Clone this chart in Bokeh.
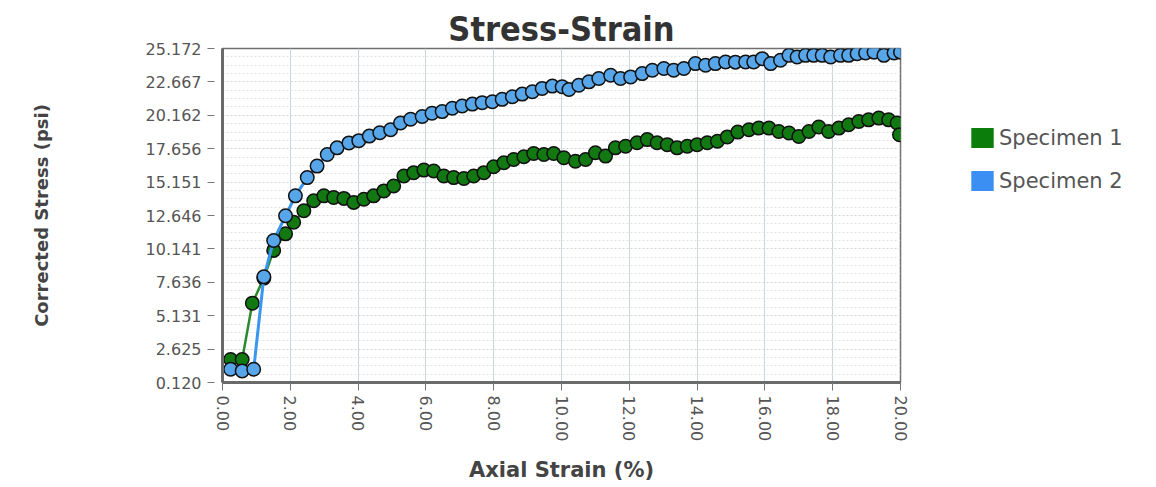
import math
from bokeh.plotting import figure
from bokeh.layouts import row
from bokeh.models import (FixedTicker, Legend, LegendItem,
                          ColumnDataSource, NumeralTickFormatter)
from bokeh.embed import file_html
from bokeh.resources import INLINE

# ---------------- data ----------------
title_text = "Stress-Strain"
x_label = "Axial Strain (%)"
y_label = "Corrected Stress (psi)"
series_names = ["Specimen 1", "Specimen 2"]

y_ticks = [0.120, 2.625, 5.131, 7.636, 10.141, 12.646, 15.151, 17.656, 20.162, 22.667, 25.172]
x_ticks = [0, 2, 4, 6, 8, 10, 12, 14, 16, 18, 20]

spec1_x = [0.24, 0.58, 0.88, 1.22, 1.51, 1.86, 2.10, 2.40, 2.69, 2.99, 3.28, 3.58, 3.87,
           4.17, 4.46, 4.76, 5.05, 5.35, 5.64, 5.94, 6.23, 6.53, 6.82, 7.12, 7.41, 7.71,
           8.00, 8.30, 8.59, 8.89, 9.18, 9.48, 9.77, 10.07, 10.41, 10.71, 11.00, 11.30,
           11.59, 11.89, 12.23, 12.53, 12.82, 13.12, 13.41, 13.71, 14.00, 14.30, 14.60,
           14.89, 15.20, 15.53, 15.82, 16.12, 16.41, 16.71, 17.00, 17.30, 17.59, 17.88,
           18.18, 18.47, 18.77, 19.06, 19.36, 19.65, 19.90, 19.97]
spec1_y = [1.85, 1.85, 6.07, 7.95, 10.03, 11.27, 12.14, 13.00, 13.75, 14.12, 14.00, 13.93,
           13.63, 13.87, 14.12, 14.49, 14.86, 15.61, 15.86, 16.05, 15.98, 15.61, 15.49,
           15.42, 15.61, 15.86, 16.30, 16.60, 16.85, 17.05, 17.30, 17.22, 17.30, 16.98,
           16.72, 16.85, 17.35, 17.10, 17.72, 17.84, 18.10, 18.34, 18.10, 17.96, 17.72,
           17.84, 17.96, 18.10, 18.21, 18.54, 18.90, 19.08, 19.20, 19.20, 18.95, 18.83,
           18.58, 18.95, 19.28, 18.95, 19.20, 19.45, 19.70, 19.82, 19.95, 19.82, 19.58, 18.70]

spec2_x = [0.24, 0.58, 0.92, 1.22, 1.51, 1.86, 2.15, 2.50, 2.79, 3.09, 3.38, 3.73, 4.02,
           4.33, 4.64, 4.96, 5.25, 5.55, 5.89, 6.18, 6.48, 6.78, 7.07, 7.37, 7.66, 7.96,
           8.25, 8.55, 8.84, 9.14, 9.43, 9.73, 10.02, 10.22, 10.51, 10.81, 11.10, 11.45,
           11.74, 12.04, 12.38, 12.68, 13.02, 13.31, 13.61, 13.95, 14.25, 14.54, 14.84,
           15.13, 15.43, 15.67, 15.92, 16.17, 16.46, 16.71, 16.95, 17.20, 17.44, 17.69,
           17.94, 18.23, 18.47, 18.72, 18.97, 19.22, 19.51, 19.81, 20.00]
spec2_y = [1.11, 0.99, 1.11, 8.05, 10.77, 12.63, 14.12, 15.49, 16.35, 17.22, 17.72, 18.09,
           18.26, 18.60, 18.85, 19.08, 19.58, 19.87, 20.07, 20.32, 20.44, 20.69, 20.86,
           21.00, 21.11, 21.18, 21.36, 21.55, 21.75, 21.93, 22.18, 22.35, 22.30, 22.10,
           22.42, 22.67, 22.92, 23.17, 22.92, 23.04, 23.29, 23.54, 23.67, 23.54, 23.67,
           24.04, 23.92, 24.04, 24.16, 24.15, 24.16, 24.16, 24.41, 24.04, 24.29, 24.66,
           24.53, 24.66, 24.66, 24.66, 24.53, 24.66, 24.66, 24.78, 24.83, 24.90, 24.66,
           24.83, 24.90]

# ---------------- styling ----------------
GREEN_LINE = "#2b8a2b"
GREEN_FILL = "#127812"
BLUE_LINE = "#3a96f0"
BLUE_FILL = "#58a6ea"
FONT = "DejaVu Sans"
H = 485

p = figure(width=922, height=H, output_backend="svg", toolbar_location=None,
           x_range=(x_ticks[0], x_ticks[-1]), y_range=(y_ticks[0], y_ticks[-1]),
           min_border_left=222, min_border_right=22, min_border_top=48,
           min_border_bottom=100)
p.background_fill_color = "white"
p.border_fill_color = "white"
p.outline_line_color = "#6f6f6f"
p.outline_line_width = 1.5

p.title.text = title_text
p.title.align = "center"
p.title.text_font = "DejaVu Sans Condensed"
p.title.text_font_style = "bold"
p.title.text_font_size = "34px"
p.title.text_color = "#333333"
p.title.standoff = 0

# minor y ticks: 4 subdivisions between majors
minor_y = []
for a, b in zip(y_ticks[:-1], y_ticks[1:]):
    for k in range(1, 4):
        minor_y.append(a + (b - a) * k / 4)

p.yaxis.ticker = FixedTicker(ticks=y_ticks, minor_ticks=minor_y)
p.xaxis.ticker = FixedTicker(ticks=x_ticks)
p.yaxis.formatter = NumeralTickFormatter(format="0.000")
p.xaxis.formatter = NumeralTickFormatter(format="0.00")

for ax in (p.xaxis[0], p.yaxis[0]):
    ax.axis_line_color = "#6a6a6a"
    ax.axis_line_width = 3
    ax.major_tick_line_color = "#777777"
    ax.major_tick_line_width = 1
    ax.minor_tick_line_color = None
    ax.major_label_text_font = FONT
    ax.major_label_text_font_size = "16px"
    ax.major_label_text_color = "#555555"
    ax.axis_label_text_font = FONT
    ax.axis_label_text_font_style = "bold"
    ax.axis_label_text_color = "#444444"

p.yaxis.major_tick_in = -8
p.yaxis.major_tick_out = 15
p.yaxis.major_label_standoff = 6
p.yaxis.axis_label = y_label
p.yaxis.axis_label_text_font_size = "18px"
p.yaxis.axis_label_standoff = 91

p.xaxis.major_tick_in = 0
p.xaxis.major_tick_out = 8
p.xaxis.major_label_standoff = 5
p.xaxis.major_label_orientation = -math.pi / 2
p.xaxis.axis_label = x_label
p.xaxis.axis_label_text_font_size = "21px"
p.xaxis.axis_label_standoff = 14

p.xgrid.ticker = FixedTicker(ticks=x_ticks)
p.xgrid.grid_line_color = "#cbd5df"
p.xgrid.grid_line_width = 1
p.ygrid.grid_line_color = "#d4d4d4"
p.ygrid.grid_line_dash = "2 2"
p.ygrid.minor_grid_line_color = "#e4e4e4"
p.ygrid.minor_grid_line_dash = "2 2"

# ---------------- series ----------------
s1 = ColumnDataSource(dict(x=spec1_x, y=spec1_y))
s2 = ColumnDataSource(dict(x=spec2_x, y=spec2_y))

p.line("x", "y", source=s1, line_color=GREEN_LINE, line_width=2.5)
p.scatter("x", "y", source=s1, marker="circle", size=13.5, fill_color=GREEN_FILL,
          line_color="#111111", line_width=1.5)
p.line("x", "y", source=s2, line_color=BLUE_LINE, line_width=3)
p.scatter("x", "y", source=s2, marker="circle", size=13.5, fill_color=BLUE_FILL,
          line_color="#111111", line_width=1.5)

# ---------------- legend (separate panel to the right) ----------------
lg = figure(width=228, height=H, output_backend="svg", toolbar_location=None,
            x_range=(0, 1), y_range=(0, 1), x_axis_location=None,
            y_axis_location=None, min_border=0)
lg.grid.visible = False
lg.outline_line_color = None
lg.background_fill_color = "white"
lg.border_fill_color = "white"

nan = float("nan")
q1 = lg.quad(left=[nan], right=[nan], top=[nan], bottom=[nan],
             fill_color="#0b7d0b", line_color=None)
q2 = lg.quad(left=[nan], right=[nan], top=[nan], bottom=[nan],
             fill_color="#3b8ff2", line_color=None)

legend = Legend(items=[LegendItem(label=series_names[0], renderers=[q1]),
                       LegendItem(label=series_names[1], renderers=[q2])],
                location=(46, 189), orientation="vertical",
                glyph_width=28, glyph_height=25, label_height=20, label_standoff=3,
                spacing=18, padding=0, margin=0,
                label_text_font=FONT, label_text_font_size="21px",
                label_text_color="#555555",
                border_line_color=None, background_fill_alpha=0)
lg.add_layout(legend)

layout = row(p, lg)
open("out.html", "w").write(file_html(layout, INLINE))
